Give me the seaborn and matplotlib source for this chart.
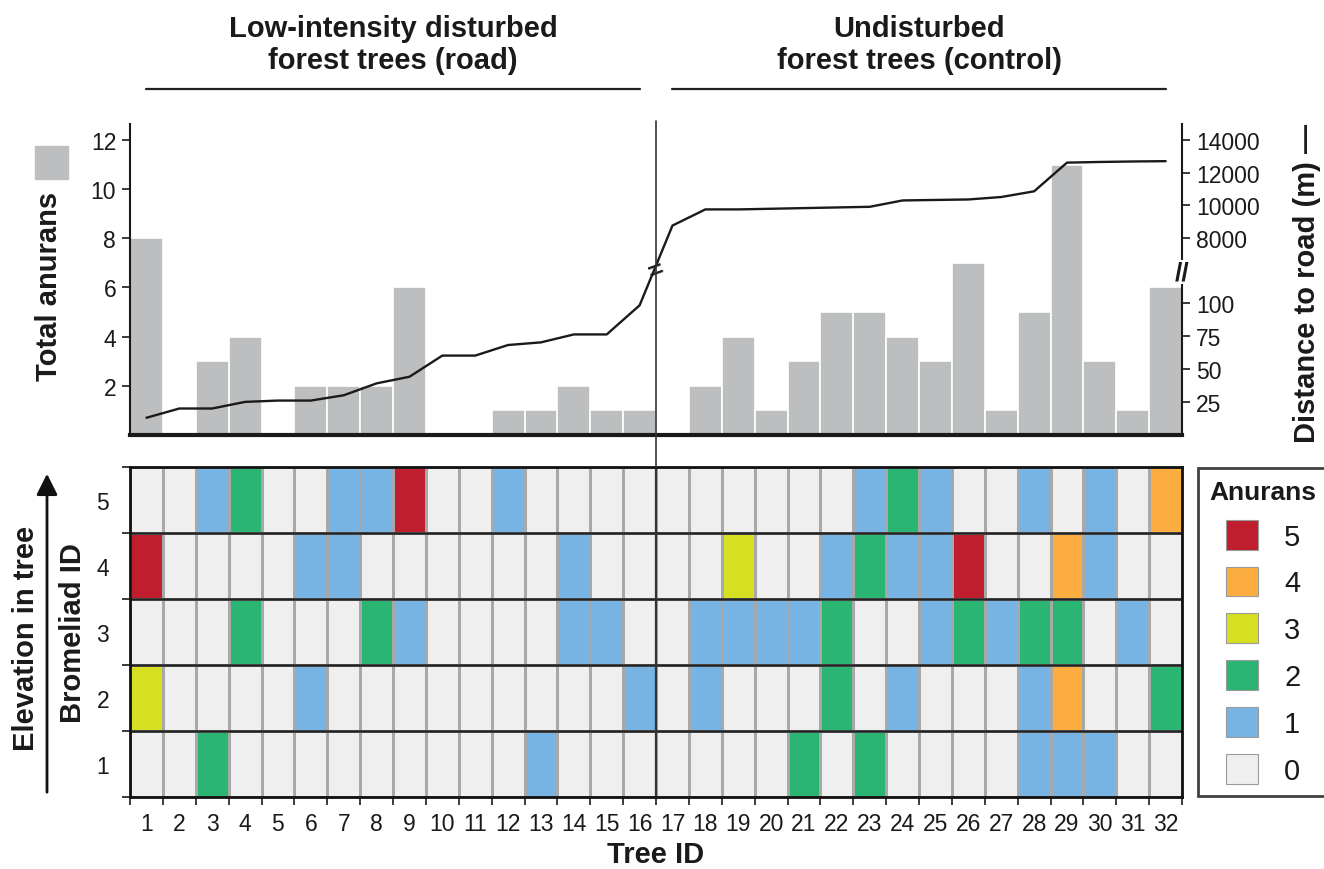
import numpy as np
import pandas as pd
import matplotlib
matplotlib.use('Agg')
import matplotlib.pyplot as plt
import seaborn as sns
from matplotlib.colors import ListedColormap
from matplotlib.patches import Patch, Rectangle, FancyArrowPatch
from matplotlib.lines import Line2D
from matplotlib.transforms import blended_transform_factory
from matplotlib.ticker import NullLocator

# data
tree_ids = list(range(1, 33))
total_anurans = [8, 0, 3, 4, 0, 2, 2, 2, 6, 0, 0, 1, 1, 2, 1, 1,
                 0, 2, 4, 1, 3, 5, 5, 4, 3, 7, 1, 5, 11, 3, 1, 6]
distance_m = [13, 20, 20, 25, 26, 26, 30, 39, 44, 60, 60, 68, 70, 76, 76, 98,
              8750, 9740, 9740, 9780, 9820, 9860, 9900, 10290, 10320, 10350,
              10500, 10850, 12610, 12650, 12680, 12700]

bromeliad_ids = [5, 4, 3, 2, 1]
brom5 = [0, 0, 1, 2, 0, 0, 1, 1, 5, 0, 0, 1, 0, 0, 0, 0,
         0, 0, 0, 0, 0, 0, 1, 2, 1, 0, 0, 1, 0, 1, 0, 4]
brom4 = [5, 0, 0, 0, 0, 1, 1, 0, 0, 0, 0, 0, 0, 1, 0, 0,
         0, 0, 3, 0, 0, 1, 2, 1, 1, 5, 0, 0, 4, 1, 0, 0]
brom3 = [0, 0, 0, 2, 0, 0, 0, 2, 1, 0, 0, 0, 0, 1, 1, 0,
         0, 1, 1, 1, 1, 2, 0, 0, 1, 2, 1, 2, 2, 0, 1, 0]
brom2 = [3, 0, 0, 0, 0, 1, 0, 0, 0, 0, 0, 0, 0, 0, 0, 1,
         0, 1, 0, 0, 0, 2, 0, 1, 0, 0, 0, 1, 4, 0, 0, 2]
brom1 = [0, 0, 2, 0, 0, 0, 0, 0, 0, 0, 0, 0, 1, 0, 0, 0,
         0, 0, 0, 0, 2, 0, 2, 0, 0, 0, 0, 1, 1, 1, 0, 0]

anuran_levels = [0, 1, 2, 3, 4, 5]
level_colors = ['#EFEFEF', '#77B4E3', '#2BB573', '#D7DF23', '#FBAE3F', '#BE1E2D']
left_ticks = [2, 4, 6, 8, 10, 12]
right_ticks = [25, 50, 75, 100, 8000, 10000, 12000, 14000]
group_titles = ['Low-intensity disturbed\nforest trees (road)',
                'Undisturbed\nforest trees (control)']

sns.set_style('white')
plt.rcParams['font.family'] = ['Liberation Sans', 'DejaVu Sans']
plt.rcParams['axes.linewidth'] = 1.5
for k in ['text.color', 'axes.labelcolor', 'xtick.color', 'ytick.color']:
    plt.rcParams[k] = '#1a1a1a'

bar_gray = '#BCBEC0'
ink = '#1a1a1a'
tick_fs = 16.5
lab_fs = 21

fig = plt.figure(figsize=(13.24, 8.7), dpi=100)
ax = fig.add_axes([0.0982, 0.4989, 0.7946, 0.3575])
axh = fig.add_axes([0.0982, 0.0828, 0.7946, 0.3793])

# ---- top panel: bars + distance line on a broken right axis
sns.barplot(x=tree_ids, y=total_anurans, color=bar_gray, width=1.0,
            edgecolor='white', linewidth=1.2, saturation=1, ax=ax)
ax.set_xlim(-0.5, 31.5)
ax.set_ylim(0, 12.65)
ax.set_xticks([])
ax.set_yticks(left_ticks)
ax.set_yticklabels(left_ticks, fontsize=tick_fs)
ax.tick_params(axis='y', left=True, length=6, width=1.2, direction='out', pad=4)
ax.set_xlabel('')
ax.set_ylabel('Total anurans', fontsize=lab_fs, fontweight='bold')
ax.yaxis.set_label_coords(-0.064, 0.48)
for s in ['top', 'right']:
    ax.spines[s].set_visible(False)
ax.spines['left'].set_linewidth(1.5)
ax.spines['left'].set_color(ink)
ax.spines['bottom'].set_linewidth(3)
ax.spines['bottom'].set_color(ink)

# piecewise scale: 0-118 m linear, then a compressed gap, then the km range
A = 0.0538
B = 0.000663
LO, HI = 118.0, 6300.0
U_LO = LO * A
U_HI = 8.02 + (HI - 8000) * B
MID = (U_HI - U_LO) / (HI - LO)


def fwd(d):
    d = np.asarray(d, dtype=float)
    return np.where(d <= LO, d * A,
                    np.where(d >= HI, U_HI + (d - HI) * B, U_LO + (d - LO) * MID))


def inv(u):
    u = np.asarray(u, dtype=float)
    return np.where(u <= U_LO, u / A,
                    np.where(u >= U_HI, HI + (u - U_HI) / B, LO + (u - U_LO) / MID))


ax2 = ax.twinx()
ax2.set_yscale('function', functions=(fwd, inv))
ax2.set_ylim(0, float(inv(12.65)))
sns.lineplot(x=np.arange(len(tree_ids)), y=distance_m, ax=ax2,
             color=ink, linewidth=1.7)
ax2.set_xlim(-0.5, 31.5)
ax2.set_yticks(right_ticks)
ax2.set_yticklabels([str(t) for t in right_ticks], fontsize=tick_fs)
ax2.yaxis.set_minor_locator(NullLocator())
ax2.tick_params(axis='y', right=True, length=6, width=1.2, direction='out', pad=4)
for s in ['top', 'left', 'bottom']:
    ax2.spines[s].set_visible(False)
ax2.spines['right'].set_linewidth(1.5)
ax2.spines['right'].set_color(ink)
ax2.set_ylabel('Distance to road (m) —', fontsize=lab_fs, fontweight='bold',
               rotation=90)
ax2.yaxis.set_label_coords(1.105, 0.49)

# break marks
u_break = (U_LO + U_HI) / 2
ax2.text(1.0, u_break / 12.65, '//', transform=ax2.transAxes, ha='center',
         va='center', fontsize=19, fontweight='bold', rotation=0,
         bbox=dict(fc='white', ec='none', pad=0.2))
y_cross = (float(fwd(distance_m[15])) + float(fwd(distance_m[16]))) / 2
ax.text(15.5, y_cross - 0.2, '=', ha='center', va='center', fontsize=19,
        fontweight='bold', rotation=20, zorder=10)

# ---- bottom panel: heatmap of anurans per bromeliad
grid = pd.DataFrame([brom5, brom4, brom3, brom2, brom1],
                    index=bromeliad_ids, columns=tree_ids)
sns.heatmap(grid, cmap=ListedColormap(level_colors), vmin=-0.5, vmax=5.5,
            linewidths=1.0, linecolor='#A8A8A8', cbar=False, ax=axh)
for r in range(1, len(bromeliad_ids)):
    axh.axhline(r, color='#222222', lw=1.8)
axh.axvline(16, color='#333333', lw=1.6)
for s in axh.spines.values():
    s.set_visible(True)
    s.set_color('#111111')
    s.set_linewidth(2)

axh.set_xticks(np.arange(len(tree_ids) + 1))
axh.set_xticklabels([])
axh.set_xticks(np.arange(len(tree_ids)) + 0.5, minor=True)
axh.set_xticklabels(tree_ids, minor=True, fontsize=tick_fs)
axh.set_yticks(np.arange(len(bromeliad_ids) + 1))
axh.set_yticklabels([])
axh.set_yticks(np.arange(len(bromeliad_ids)) + 0.5, minor=True)
axh.set_yticklabels(bromeliad_ids, minor=True, fontsize=tick_fs, rotation=0)
axh.tick_params(which='major', bottom=True, left=True, length=6, width=1.2,
                direction='out')
axh.tick_params(which='minor', bottom=True, left=True, length=0)
axh.tick_params(axis='x', which='minor', pad=11)
axh.tick_params(axis='y', which='minor', pad=15)
axh.set_xlabel('Tree ID', fontsize=lab_fs, fontweight='bold')
axh.xaxis.set_label_coords(0.5, -0.13)
axh.set_ylabel('Bromeliad ID', fontsize=lab_fs, fontweight='bold')
axh.yaxis.set_label_coords(-0.041, 0.5)

# legend
handles = [Patch(facecolor=level_colors[v], edgecolor='#9a9a9a', linewidth=0.8)
           for v in reversed(anuran_levels)]
leg = fig.legend(handles, [str(v) for v in reversed(anuran_levels)],
                 title='Anurans', loc='upper left',
                 bbox_to_anchor=(1198 / 1324, 1 - 469 / 870), frameon=True,
                 borderaxespad=0, fancybox=False, fontsize=21,
                 handlelength=1.1, handleheight=1.2, labelspacing=0.55,
                 borderpad=0.4, handletextpad=0.9,
                 title_fontproperties={'weight': 'bold', 'size': 19})
leg.get_frame().set_edgecolor('#111111')
leg.get_frame().set_linewidth(2)

# group titles and lines above the top panel
tr = blended_transform_factory(ax.transData, fig.transFigure)
for i, title in enumerate(group_titles):
    x0, x1 = 16 * i, 16 * i + 15
    ax.plot([x0, x1], [1 - 90 / 870] * 2, color='#222222', lw=1.6,
            transform=tr, clip_on=False)
    ax.text((x0 + x1) / 2, 1 - 45 / 870, title, transform=tr, ha='center',
            va='center', fontsize=lab_fs, fontweight='bold', linespacing=1.2)

# divider between the two groups through both panels
xm = 0.0982 + 0.7946 * 0.5
fig.add_artist(Line2D([xm, xm], [0.4621, 1 - 122 / 870], color='#333333', lw=1.2))

# extra left annotations
fig.add_artist(Rectangle((35 / 1324, 1 - 180 / 870), 33 / 1324, 33 / 870,
                         color=bar_gray, transform=fig.transFigure))
fig.text(26 / 1324, 1 - 638 / 870, 'Elevation in tree', rotation=90,
         ha='center', va='center', fontsize=lab_fs, fontweight='bold')
fig.add_artist(FancyArrowPatch((47 / 1324, 1 - 796 / 870), (47 / 1324, 1 - 472 / 870),
                               transform=fig.transFigure, arrowstyle='-|>',
                               mutation_scale=32, lw=2, color='#111111'))

fig.savefig('out.png', dpi=100)
